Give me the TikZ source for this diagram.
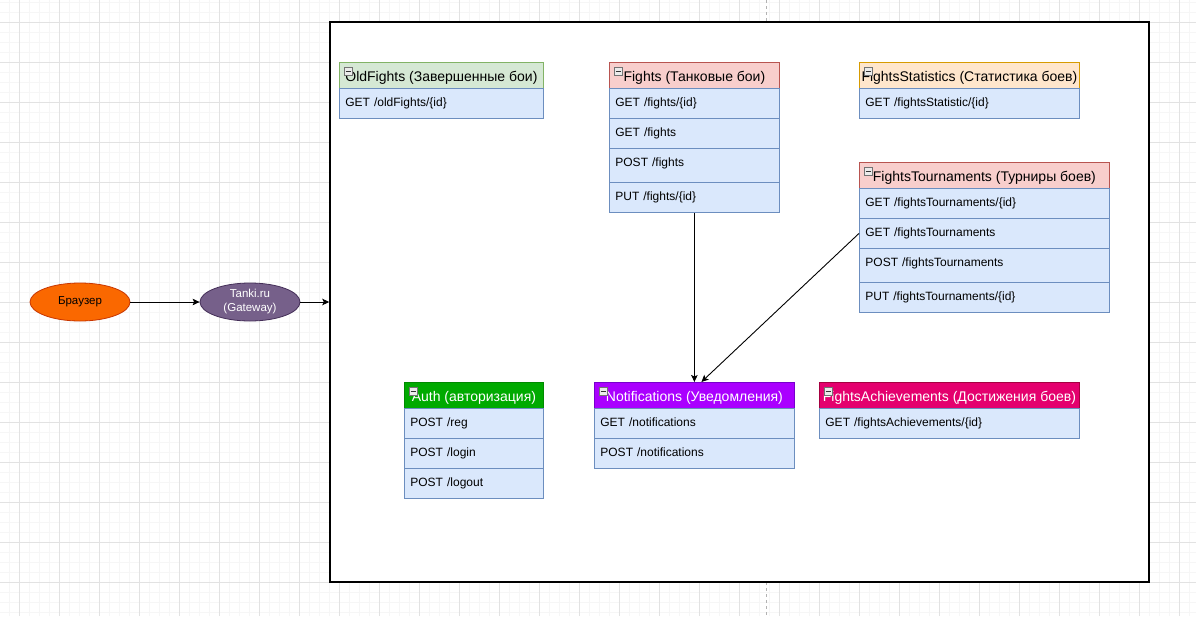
\documentclass[tikz,border=0pt]{standalone}
\usepackage{fontspec}
\setmainfont{Liberation Sans}
\usetikzlibrary{arrows.meta, shapes.geometric}
\usepackage{xcolor}

\definecolor{gridminor}{RGB}{246,246,246}
\definecolor{gridmajor}{RGB}{226,226,226}
\definecolor{rowfill}{HTML}{DAE8FC}
\definecolor{rowline}{HTML}{6C8EBF}
\definecolor{greenfill}{HTML}{D5E8D4}
\definecolor{greenline}{HTML}{82B366}
\definecolor{redfill}{HTML}{F8CECC}
\definecolor{redline}{HTML}{B85450}
\definecolor{orangefill}{HTML}{FFE6CC}
\definecolor{orangeline}{HTML}{D79B00}
\definecolor{authfill}{HTML}{00AA00}
\definecolor{authline}{HTML}{008A00}
\definecolor{notiffill}{HTML}{AA00FF}
\definecolor{notifline}{HTML}{7700CC}
\definecolor{achievfill}{HTML}{E4006E}
\definecolor{achievline}{HTML}{A50040}
\definecolor{browserfill}{HTML}{FA6800}
\definecolor{browserline}{HTML}{C73500}
\definecolor{gatewayfill}{HTML}{76608A}
\definecolor{gatewayline}{HTML}{432D57}

\begin{document}
\begin{tikzpicture}
  [x=1pt,y=-1pt,
   head/.style={draw, anchor=north west, line width=0.8pt, inner sep=0pt,
     minimum height=26pt, text height=19.5pt, text depth=6.5pt,
     font=\fontsize{14}{16}\selectfont},
   row/.style={draw=rowline, fill=rowfill, anchor=north west, line width=0.8pt,
     inner xsep=6pt, inner ysep=0pt, text height=18.3pt, text depth=11.7pt,
     align=left, font=\fontsize{12}{14}\selectfont},
   tallrow/.style={row, text depth=15.7pt},
   oval/.style={ellipse, line width=0.8pt, minimum width=100pt, minimum height=38pt,
     inner sep=0pt, align=center, font=\fontsize{11.5}{14}\selectfont},
   link/.style={-{Stealth[length=7pt,width=6.5pt,inset=1.5pt]}, line width=0.9pt}]

  \useasboundingbox (0,0) rectangle (1196,616);

  % background grid
  \foreach \x in {9,19,...,1189}
    \draw[gridminor, line width=0.8pt] (\x,0) -- (\x,616);
  \foreach \y in {2,12,...,612}
    \draw[gridminor, line width=0.8pt] (0,\y) -- (1196,\y);
  \foreach \x in {19,59,...,1179}
    \draw[gridmajor, line width=0.8pt] (\x,0) -- (\x,616);
  \foreach \y in {22,62,...,582}
    \draw[gridmajor, line width=0.8pt] (0,\y) -- (1196,\y);
  \draw[black!30, dashed, line width=0.8pt] (766,0) -- (766,616);

  \node[draw, fill=white, line width=1.5pt, inner sep=0pt,
    minimum width=819pt, minimum height=560pt] (services) at (739.5,302) {};

  % OldFights
  \node[head, fill=greenfill, draw=greenline, minimum width=204pt] (oldfights) at (339,62) {OldFights (Завершенные бои)};
  \node[row, text width=192pt] (oldfights1) at (339,88) {GET /oldFights/\{id\}};

  % Fights
  \node[head, fill=redfill, draw=redline, minimum width=170pt] (fights) at (609,62) {Fights (Танковые бои)};
  \node[row, text width=158pt] (fights1) at (609,88)  {GET /fights/\{id\}};
  \node[row, text width=158pt] (fights2) at (609,118) {GET /fights};
  \node[tallrow, text width=158pt] (fights3) at (609,148) {POST /fights};
  \node[row, text width=158pt] (fights4) at (609,182) {PUT /fights/\{id\}};

  % FightsStatistics
  \node[head, fill=orangefill, draw=orangeline, minimum width=220pt] (stats) at (859,62) {FightsStatistics (Статистика боев)};
  \node[row, text width=208pt] (stats1) at (859,88) {GET /fightsStatistic/\{id\}};

  % FightsTournaments
  \node[head, fill=redfill, draw=redline, minimum width=250pt] (tours) at (859,162) {FightsTournaments (Турниры боев)};
  \node[row, text width=238pt] (tours1) at (859,188) {GET /fightsTournaments/\{id\}};
  \node[row, text width=238pt] (tours2) at (859,218) {GET /fightsTournaments};
  \node[tallrow, text width=238pt] (tours3) at (859,248) {POST /fightsTournaments};
  \node[row, text width=238pt] (tours4) at (859,282) {PUT /fightsTournaments/\{id\}};

  % Auth
  \node[head, fill=authfill, draw=authline, text=white, minimum width=139pt] (auth) at (404,382) {Auth (авторизация)};
  \node[row, text width=127pt] (auth1) at (404,408) {POST /reg};
  \node[row, text width=127pt] (auth2) at (404,438) {POST /login};
  \node[row, text width=127pt] (auth3) at (404,468) {POST /logout};

  % Notifications
  \node[head, fill=notiffill, draw=notifline, text=white, minimum width=200pt] (notif) at (594,382) {Notifications (Уведомления)};
  \node[row, text width=188pt] (notif1) at (594,408) {GET /notifications};
  \node[row, text width=188pt] (notif2) at (594,438) {POST /notifications};

  % FightsAchievements
  \node[head, fill=achievfill, draw=achievline, text=white, minimum width=260pt] (achiev) at (819,382) {FightsAchievements (Достижения боев)};
  \node[row, text width=248pt] (achiev1) at (819,408) {GET /fightsAchievements/\{id\}};

  \foreach \n in {oldfights,fights,stats,tours,auth,notif,achiev} {
    \draw[draw=black!55, fill=black!8, line width=0.6pt]
      ([xshift=5pt,yshift=-5pt]\n.north west) rectangle ++(8,8);
    \draw[black!80, line width=0.9pt]
      ([xshift=6.5pt,yshift=-9pt]\n.north west) -- ++(5,0);
  }

  \node[oval, fill=browserfill, draw=browserline] (browser) at (80,302) {Браузер};
  \node[oval, fill=gatewayfill, draw=gatewayline, text=white] (gateway) at (250,302) {Tanki.ru\\(Gateway)};

  \draw[link] (browser) -- (gateway);
  \draw[link] (gateway) -- (services.west);
  \draw[link] (fights4) -- (notif);
  \draw[link] (tours2.west) -- ([xshift=7pt]notif.north);

\end{tikzpicture}
\end{document}
